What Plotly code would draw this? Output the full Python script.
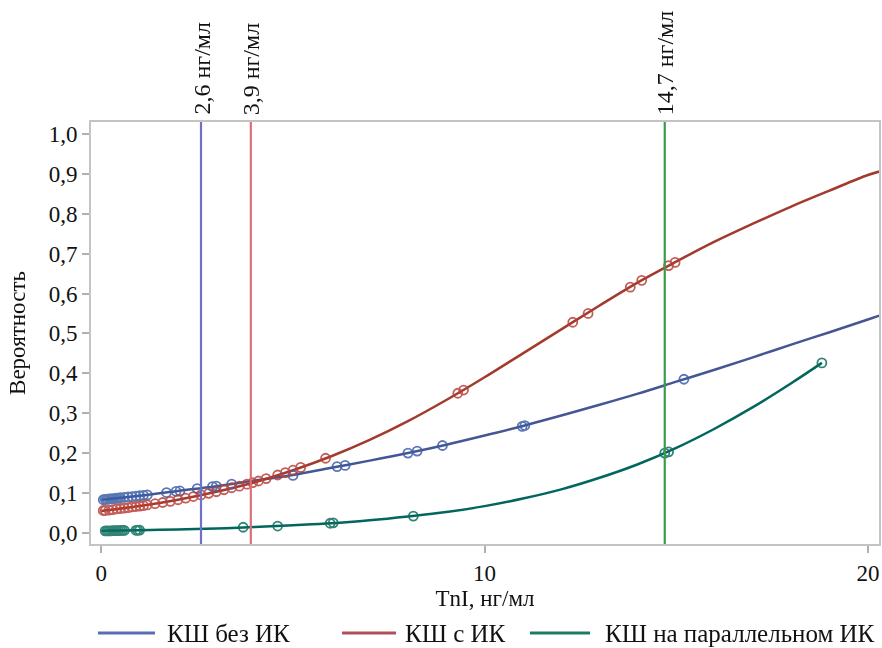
import plotly.graph_objects as go

# ---- curve data ----
curve_x = [0, 1, 2, 3, 4, 5, 6, 7, 8, 9, 10, 11, 12, 13, 14, 15, 16, 17, 18, 19, 20, 20.35]
blue_y = [0.083, 0.093, 0.105, 0.117, 0.131, 0.145, 0.163, 0.181, 0.200, 0.221, 0.244,
          0.268, 0.294, 0.321, 0.349, 0.379, 0.409, 0.440, 0.472, 0.503, 0.535, 0.546]
red_y = [0.055, 0.067, 0.083, 0.103, 0.127, 0.157, 0.192, 0.233, 0.280, 0.333, 0.390,
         0.450, 0.510, 0.570, 0.628, 0.680, 0.730, 0.775, 0.818, 0.858, 0.897, 0.907]
green_x = [0, 1, 2, 3, 4, 5, 6, 7, 8, 9, 10, 11, 12, 13, 14, 15, 16, 17, 18, 18.8]
green_y = [0.005, 0.0066, 0.0086, 0.011, 0.0145, 0.019, 0.024, 0.0315, 0.041, 0.052, 0.067,
           0.086, 0.109, 0.138, 0.172, 0.213, 0.261, 0.315, 0.375, 0.426]

# ---- observed points (circles) ----
blue_px = [0.05, 0.1, 0.15, 0.2, 0.25, 0.3, 0.35, 0.4, 0.45, 0.5, 0.6, 0.7, 0.8, 0.9, 1.0,
           1.1, 1.2, 1.7, 1.95, 2.05, 2.5, 2.9, 3.0, 3.4, 5.0, 6.15, 6.36, 8.0, 8.24, 8.9,
           10.98, 11.05, 15.2]
blue_py = [0.083, 0.084, 0.084, 0.085, 0.085, 0.086, 0.086, 0.087, 0.087, 0.088, 0.089,
           0.090, 0.091, 0.092, 0.093, 0.094, 0.095, 0.101, 0.104, 0.105, 0.111, 0.116,
           0.117, 0.122, 0.144, 0.166, 0.169, 0.200, 0.205, 0.219, 0.267, 0.269, 0.385]
red_px = [0.05, 0.1, 0.2, 0.3, 0.4, 0.5, 0.6, 0.7, 0.8, 0.9, 1.0, 1.1, 1.2, 1.4, 1.6, 1.8,
          2.0, 2.2, 2.4, 2.6, 2.8, 3.0, 3.2, 3.4, 3.6, 3.8, 3.95, 4.1, 4.3, 4.6, 4.8, 5.0,
          5.2, 5.85, 9.3, 9.45, 12.3, 12.7, 13.8, 14.1, 14.8, 14.97]
red_py = [0.056, 0.056, 0.057, 0.058, 0.060, 0.061, 0.062, 0.063, 0.065, 0.066, 0.067,
          0.068, 0.070, 0.073, 0.076, 0.079, 0.083, 0.087, 0.091, 0.095, 0.099, 0.103,
          0.108, 0.113, 0.117, 0.122, 0.126, 0.130, 0.136, 0.145, 0.151, 0.157, 0.164,
          0.187, 0.350, 0.358, 0.528, 0.550, 0.616, 0.633, 0.670, 0.678]
green_px = [0.1, 0.15, 0.2, 0.25, 0.3, 0.35, 0.4, 0.45, 0.5, 0.55, 0.6, 0.9, 0.95, 1.0,
            3.7, 4.6, 5.97, 6.05, 8.14, 14.7, 14.8, 18.8]
green_py = [0.005, 0.005, 0.005, 0.005, 0.0055, 0.0055, 0.0055, 0.0055, 0.006, 0.006,
            0.006, 0.0064, 0.0065, 0.0066, 0.014, 0.017, 0.024, 0.025, 0.042, 0.200,
            0.203, 0.426]

# ---- thresholds ----
cut_values = [2.6, 3.9, 14.7]
cut_labels = ["2,6 нг/мл", "3,9 нг/мл", "14,7 нг/мл"]
cut_colors = ["#6f72c9", "#db6f7b", "#3c9a4c"]

series_names = ["КШ без ИК", "КШ с ИК", "КШ на параллельном ИК"]
series_colors = ["#445694", "#A23A2E", "#01665E"]
marker_colors = ["#3d5fa8", "#b8413a", "#0e6e5e"]
legend_line_colors = ["#5a6db5", "#b0505a", "#1f7a62"]

FONT = "Liberation Serif"

W, H = 882, 648
L, R, T, B = 91, 3, 122, 104
PW, PH = W - L - R, H - T - B


def px_to_paper_x(px):
    return (px - L) / PW


def px_to_paper_y(py):
    return (H - B - py) / PH


fig = go.Figure()

curves = [(curve_x, blue_y), (curve_x, red_y), (green_x, green_y)]
points = [(blue_px, blue_py), (red_px, red_py), (green_px, green_py)]

for (cx, cy), name, col in zip(curves, series_names, series_colors):
    fig.add_trace(go.Scatter(x=cx, y=cy, mode="lines", name=name, showlegend=False,
                             line=dict(color=col, width=2.5, shape="spline")))

for (px, py), mc in zip(points, marker_colors):
    fig.add_trace(go.Scatter(x=px, y=py, mode="markers", showlegend=False,
                             marker=dict(symbol="circle-open", size=9, color=mc,
                                         line=dict(width=1.8, color=mc)),
                             opacity=0.85))

for v, lab, col in zip(cut_values, cut_labels, cut_colors):
    fig.add_shape(type="line", xref="x", yref="paper", x0=v, x1=v, y0=0, y1=1,
                  line=dict(color=col, width=2.2), layer="above")
    fig.add_annotation(x=v, y=1, xref="x", yref="paper", text=lab, textangle=-90,
                       showarrow=False, xanchor="center", yanchor="bottom", yshift=5,
                       font=dict(family=FONT, size=24, color="#111"))

# manual legend (line samples + labels)
legend_line_px = [(98, 155), (342, 396), (530, 590)]
legend_text_px = [165, 403, 603]
legend_y = px_to_paper_y(633)
for (x0, x1), tx, name, col in zip(legend_line_px, legend_text_px, series_names,
                                   legend_line_colors):
    fig.add_shape(type="line", xref="paper", yref="paper",
                  x0=px_to_paper_x(x0), x1=px_to_paper_x(x1), y0=legend_y, y1=legend_y,
                  line=dict(color=col, width=3))
    fig.add_annotation(x=px_to_paper_x(tx), y=legend_y, xref="paper", yref="paper",
                       text=name, showarrow=False, xanchor="left", yanchor="middle",
                       font=dict(family=FONT, size=25, color="#111"))

axis_common = dict(showline=True, mirror=True, linecolor="#c4c4c4", linewidth=2,
                   ticks="outside", tickcolor="#b0b0b0", ticklen=7, tickwidth=1.5,
                   showgrid=False, zeroline=False, automargin=False,
                   tickfont=dict(family=FONT, size=23, color="#111"))

fig.update_layout(
    width=W, height=H,
    margin=dict(l=L, r=R, t=T, b=B),
    paper_bgcolor="white", plot_bgcolor="white",
    separators=", ",
    font=dict(family=FONT, size=22, color="#111"),
    xaxis=dict(range=[-0.27, 20.29], tickvals=[0, 10, 20],
               title=dict(text="TnI, нг/мл", font=dict(family=FONT, size=23), standoff=4),
               **axis_common),
    yaxis=dict(range=[-0.028, 1.03], tickvals=[i / 10 for i in range(11)], tickformat=".1f",
               title=dict(text="Вероятность", font=dict(family=FONT, size=23), standoff=17),
               **axis_common),
    showlegend=False,
)

fig.write_html("out.html",
               config={"displayModeBar": False},
               post_script="document.body.style.margin='0';"
                           "document.body.style.overflow='hidden';")
